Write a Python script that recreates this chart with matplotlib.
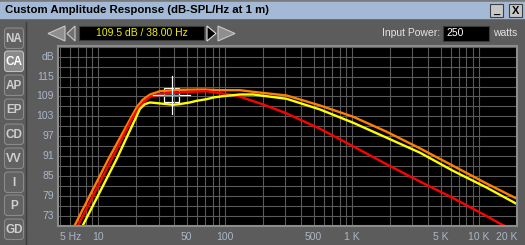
import numpy as np
import matplotlib.pyplot as plt
from matplotlib.patches import Rectangle, Polygon, FancyBboxPatch
from matplotlib.ticker import NullLocator
import matplotlib.transforms as mtransforms

plt.rcParams['font.family'] = ['Liberation Sans', 'DejaVu Sans']

# response curves (Hz, dB)
f_orange = [6.3, 12.05, 17.9, 20.3, 22.5, 25.7, 30.8, 44.2, 67, 91.4, 131, 167, 306, 560, 1023, 1875, 3430, 6280, 11500, 20000]
db_orange = [68.9, 90.1, 102.1, 105.9, 108.0, 109.6, 110.6, 111.0, 111.1, 110.9, 110.9, 110.4, 109.3, 106.3, 102.9, 98.4, 93.4, 88.1, 82.8, 78.2]

f_red = [6.7, 12.8, 18.4, 20.8, 23.0, 25.7, 32.6, 44, 53, 72, 91, 123, 200, 306, 560, 1023, 1875, 3430, 6280, 11500, 14900, 16500]
db_red = [68.9, 90.1, 102.1, 105.4, 107.4, 108.9, 109.9, 110.2, 110.4, 110.6, 110.0, 109.3, 106.6, 103.9, 99.3, 94.0, 88.6, 83.4, 78.4, 73.0, 70.6, 69.8]

f_yellow = [7.3, 14.0, 19.6, 21.4, 23.4, 25.7, 30.8, 39, 44, 53, 60, 72, 81, 97, 131, 167, 306, 560, 1023, 1875, 3430, 6280, 11500, 20000]
db_yellow = [68.9, 90.1, 102.1, 105.3, 106.7, 107.2, 106.9, 106.5, 106.7, 107.2, 107.7, 108.2, 108.7, 109.1, 109.6, 109.6, 108.3, 105.1, 101.1, 96.6, 92.1, 86.6, 81.6, 76.6]

cursor_f, cursor_db = 38.0, 109.5

x_ticks = [5, 10, 50, 100, 500, 1000, 5000, 10000, 20000]
x_labels = ['5 Hz', '10', '50', '100', '500', '1 K', '5 K', '10 K', '20 K']
y_ticks = [115, 109, 103, 97, 91, 85, 79, 73]

tabs = ['NA', 'CA', 'AP', 'EP', 'CD', 'VV', 'I', 'P', 'GD']
tab_top = [27, 50, 74, 98, 123, 147, 171, 194, 218]

fig = plt.figure(figsize=(5.25, 2.45), dpi=100)
fig.patch.set_facecolor('#5c5c5c')

# window chrome drawn in pixel coordinates
bg = fig.add_axes([0, 0, 1, 1], zorder=0)
bg.set_xlim(0, 525)
bg.set_ylim(245, 0)
bg.axis('off')

bg.add_patch(Rectangle((0, 0), 525, 2, color='#7a7a7a'))
bg.add_patch(Rectangle((0, 2), 525, 16, color='#a4b9d5'))
bg.text(5, 10, 'Custom Amplitude Response (dB-SPL/Hz at 1 m)', fontsize=8.2,
        weight='bold', va='center', ha='left', color='black')
for x0, s in [(490, '_'), (509, 'X')]:
    bg.add_patch(Rectangle((x0, 4), 13, 13, facecolor='#c8c8c8', edgecolor='#404040', lw=0.8))
    bg.text(x0 + 6.5, 10.5, s, fontsize=8, weight='bold', ha='center', va='center', color='black')

# arrows and readout
bg.add_patch(Polygon([(48, 33.5), (65, 26), (65, 41)], facecolor='#8e8e8e', edgecolor='#c8c8c8', lw=0.8))
bg.add_patch(Polygon([(67, 33.5), (75, 26), (75, 41)], facecolor='#707070', edgecolor='#c8c8c8', lw=0.8))
bg.add_patch(Rectangle((79, 26), 125, 14, facecolor='black', edgecolor='#3a3a3a', lw=0.8))
bg.text(141.5, 33.5, '109.5 dB / 38.00 Hz', fontsize=7.5, color='#f4f000', ha='center', va='center')
bg.add_patch(Polygon([(216, 33.5), (207, 26), (207, 41)], facecolor='black', edgecolor='#e0e0e0', lw=0.8))
bg.add_patch(Polygon([(235, 33.5), (218, 26), (218, 41)], facecolor='#8e8e8e', edgecolor='#c8c8c8', lw=0.8))

bg.text(440, 33, 'Input Power:', fontsize=7.5, color='#e4e4e4', ha='right', va='center')
bg.add_patch(Rectangle((443, 26), 46, 15, facecolor='black', edgecolor='#3a3a3a', lw=0.8))
bg.text(446, 33.5, '250', fontsize=7.5, color='white', ha='left', va='center')
bg.text(493, 33, 'watts', fontsize=7.5, color='#e4e4e4', ha='left', va='center')

# side tabs
bg.plot([26, 26], [22, 245], color='#3c3c3c', lw=1)
for name, top in zip(tabs, tab_top):
    sel = name == 'CA'
    bg.add_patch(FancyBboxPatch((4.5, top + 1), 19, 20.5, boxstyle='round,pad=0,rounding_size=3',
                                facecolor='#8a8a8a' if sel else '#626262',
                                edgecolor='#c0c0c0' if sel else '#8a8a8a', lw=0.8))
    bg.text(14, top + 11.5, name, fontsize=8.5, weight='bold', ha='center', va='center',
            color='white' if sel else '#cfcfcf')

# plot area
ax = fig.add_axes([58 / 525, 19 / 245, 459 / 525, 180 / 245], zorder=1)
ax.set_facecolor('black')
ax.set_xscale('log')
ax.set_xlim(4.84, 19600)
ax.set_ylim(70.1, 124.2)

grid_x = [m * 10**k for k in range(0, 5) for m in range(1, 10) if 5 <= m * 10**k <= 20000]
ax.set_xticks(grid_x)
ax.xaxis.set_minor_locator(NullLocator())
ax.set_yticks(np.arange(70, 125, 3))
ax.tick_params(length=0, labelbottom=False, labelleft=False)
ax.grid(True, color='#5a5a5a', lw=0.8)
for sp in ax.spines.values():
    sp.set_color('#8c8c8c')
    sp.set_linewidth(1.5)

ax.plot(f_orange, db_orange, color='#ff8000', lw=1.7)
ax.plot(f_red, db_red, color='#ff0000', lw=1.7)
ax.plot(f_yellow, db_yellow, color='#ffff00', lw=1.7)

# cursor
ax.plot([cursor_f, cursor_f], [cursor_db - 5.7, cursor_db + 5.7], color='white', lw=0.9)
ax.plot([cursor_f / 1.4, cursor_f * 1.4], [cursor_db, cursor_db], color='white', lw=0.9)
ax.plot([cursor_f / 1.145, cursor_f * 1.145], [cursor_db, cursor_db], color='#00e0ff', lw=0.9)
ax.add_patch(Rectangle((cursor_f / 1.145, cursor_db - 2.2), cursor_f * 1.145 - cursor_f / 1.145, 4.4,
                       fill=False, edgecolor='white', lw=0.9))

# axis labels
lab = dict(fontsize=7.5, color='#aab6c8')
xt = ax.get_xaxis_transform()
for v, s in zip(x_ticks, x_labels):
    ha = 'left' if s == '5 Hz' else ('right' if s == '20 K' else 'center')
    ax.text(v, -0.062, s, transform=xt, ha=ha, va='center', **lab)
yt = mtransforms.blended_transform_factory(ax.transAxes, ax.transData)
for v in y_ticks:
    ax.text(-0.009, v, str(v), transform=yt, ha='right', va='center', **lab)
ax.text(-0.009, 121, 'dB', transform=yt, ha='right', va='center', **lab)

plt.savefig('out.png', dpi=100, facecolor=fig.get_facecolor())
